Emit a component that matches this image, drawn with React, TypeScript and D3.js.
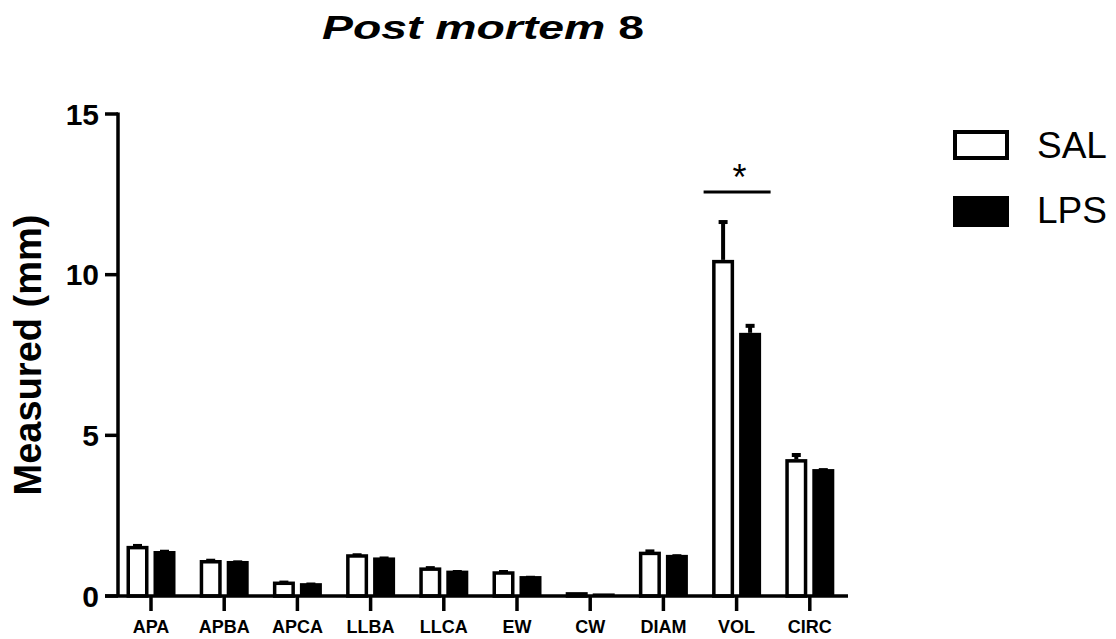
import React from "react";
import * as d3 from "d3";

const categories = ["APA", "APBA", "APCA", "LLBA", "LLCA", "EW", "CW", "DIAM", "VOL", "CIRC"];
const salMean = [1.56, 1.12, 0.45, 1.3, 0.89, 0.77, 0.12, 1.38, 10.46, 4.26];
const salErr = [0.06, 0.04, 0.03, 0.03, 0.04, 0.04, 0.0, 0.07, 1.24, 0.19];
const lpsMean = [1.4, 1.09, 0.4, 1.2, 0.79, 0.62, 0.08, 1.28, 8.19, 3.95];
const lpsErr = [0.04, 0.02, 0.02, 0.03, 0.02, 0.01, 0.0, 0.02, 0.28, 0.03];
const yTicks = [0, 5, 10, 15];
const seriesNames = ["SAL", "LPS"];

const FONT = "'Liberation Sans', Arial, sans-serif";

export default function App() {
  const x = d3.scaleBand<string>().domain(categories).range([114.4, 846.4]);
  const y = d3.scaleLinear().domain([0, 15]).range([596, 114]);
  const offset = 13.5;
  const barW = 22;
  const sw = 3.5;
  const capW = 9;

  const renderBar = (i: number, s: number) => {
    const c = (x(categories[i]) as number) + x.bandwidth() / 2 + (s === 0 ? -offset : offset);
    const v = s === 0 ? salMean[i] : lpsMean[i];
    const e = s === 0 ? salErr[i] : lpsErr[i];
    const top = y(v);
    const errTop = y(v + e);
    return (
      <g key={`${s}-${i}`}>
        {e > 0 && (
          <>
            <line x1={c} x2={c} y1={top} y2={errTop + 2} stroke="#000" strokeWidth={4} />
            <line x1={c - capW / 2} x2={c + capW / 2} y1={errTop + 2} y2={errTop + 2} stroke="#000" strokeWidth={4} />
          </>
        )}
        {s === 0 ? (
          <rect
            x={c - barW / 2 + sw / 2}
            y={top + sw / 2}
            width={barW - sw}
            height={Math.max(0, y(0) - top - sw / 2)}
            fill="#fff"
            stroke="#000"
            strokeWidth={sw}
          />
        ) : (
          <rect x={c - barW / 2} y={top} width={barW} height={y(0) - top} fill="#000" />
        )}
      </g>
    );
  };

  const volC = (x("VOL") as number) + x.bandwidth() / 2;

  return (
    <svg
      width={1116}
      height={639}
      style={{ position: "absolute", left: 0, top: 0, background: "#fff" }}
      fontFamily={FONT}
    >
      <rect width={1116} height={639} fill="#fff" />
      {/* title */}
      <text x={322} y={39} fontSize={34} fontWeight="bold" textLength={322} lengthAdjust="spacingAndGlyphs">
        <tspan fontStyle="italic">Post mortem</tspan>
        <tspan> 8</tspan>
      </text>

      {/* bars */}
      {categories.map((_, i) => (
        <g key={i}>
          {renderBar(i, 0)}
          {renderBar(i, 1)}
        </g>
      ))}

      {/* y axis */}
      <line x1={118} x2={118} y1={y(15) - 1.5} y2={y(0)} stroke="#000" strokeWidth={3.5} />
      {yTicks.map((t) => (
        <g key={t}>
          <line x1={105} x2={118} y1={y(t)} y2={y(t)} stroke="#000" strokeWidth={3.5} />
          <text x={99} y={y(t)} dy="0.36em" textAnchor="end" fontSize={30} fontWeight="bold">
            {t}
          </text>
        </g>
      ))}
      <text
        transform={`translate(41,355) rotate(-90)`}
        textAnchor="middle"
        fontSize={38}
        fontWeight="bold"
      >
        Measured (mm)
      </text>

      {/* x axis */}
      <line x1={105} x2={848} y1={y(0)} y2={y(0)} stroke="#000" strokeWidth={3.5} />
      {categories.map((c) => {
        const cx = (x(c) as number) + x.bandwidth() / 2;
        return (
          <g key={c}>
            <line x1={cx} x2={cx} y1={y(0)} y2={611} stroke="#000" strokeWidth={3.5} />
            <text x={cx} y={633} textAnchor="middle" fontSize={18} fontWeight="bold">
              {c}
            </text>
          </g>
        );
      })}

      {/* significance */}
      <line x1={volC - 33} x2={volC + 34} y1={192} y2={192} stroke="#000" strokeWidth={3.2} />
      <text x={volC + 3} y={190} textAnchor="middle" fontSize={36}>
        *
      </text>

      {/* legend */}
      <rect x={955} y={132} width={52} height={26} fill="#fff" stroke="#000" strokeWidth={4} />
      <rect x={953} y={196} width={56} height={31} fill="#000" />
      <text x={1037} y={158} fontSize={37}>
        {seriesNames[0]}
      </text>
      <text x={1037} y={223} fontSize={37}>
        {seriesNames[1]}
      </text>
    </svg>
  );
}
